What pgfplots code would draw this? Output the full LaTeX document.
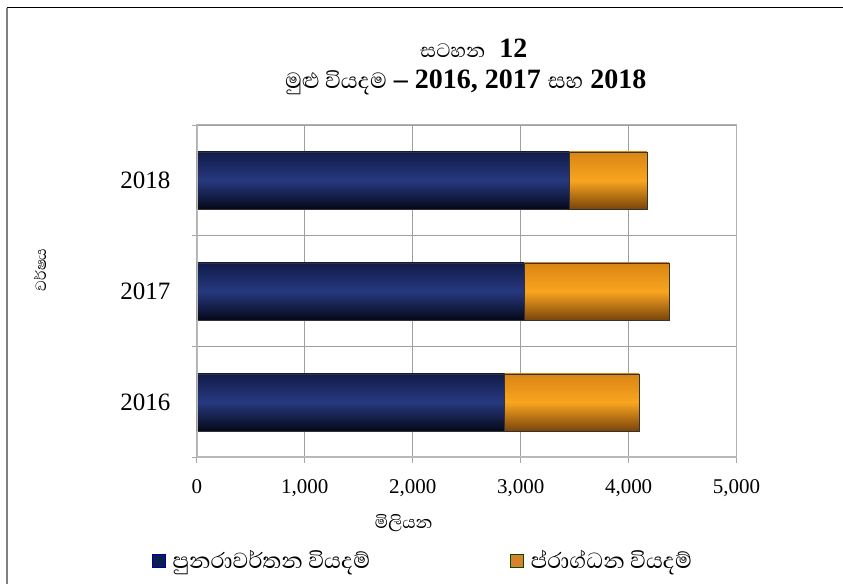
\documentclass[border=0pt]{standalone}
\usepackage{fontspec}
\setmainfont{Liberation Serif}
\newfontfamily\sinhala[Script=Sinhala]{Abhaya Libre}
\usepackage{pgfplots}
\pgfplotsset{compat=1.18}
\definecolor{navyTop}{HTML}{111B4A}
\definecolor{navyMid}{HTML}{27397F}
\definecolor{navyBot}{HTML}{05081A}
\definecolor{orTop}{HTML}{D98514}
\definecolor{orMid}{HTML}{F9A520}
\definecolor{orBot}{HTML}{7A440A}
\definecolor{legBlue}{HTML}{0B1E4D}
\definecolor{legOr}{HTML}{D9822B}
\pgfplotsset{
  bluebar/.style={xbar, bar shift=0pt, bar width=57pt, draw=black!80, line width=0.4pt,
     top color=navyTop, bottom color=navyBot, middle color=navyMid, forget plot},
  orbar/.style={xbar, bar shift=0pt, bar width=57pt, draw=black!80, line width=0.4pt,
     top color=orTop, bottom color=orBot, middle color=orMid, forget plot},
}
\begin{document}
\begin{tikzpicture}[x=1pt,y=1pt]
\path[fill=white] (0,0) rectangle (843,584);
\draw[black, line width=1pt] (7,576) -- (843,576);
\draw[gray, line width=1.6pt] (7,576) -- (7,0);
\begin{axis}[
  at={(197pt,126pt)}, anchor=south west,
  scale only axis, width=540pt, height=333pt,
  xmin=0, xmax=5000, ymin=-0.5, ymax=2.5,
  xtick={0,1000,...,5000},
  ytick={-0.5,0.5,1.5,2.5}, yticklabels={},
  extra y ticks={0,1,2}, extra y tick labels={2016,2017,2018},
  extra y tick style={grid=none, major tick length=0pt,
     yticklabel style={font=\fontsize{25}{28}\selectfont, xshift=-23pt}},
  xmajorgrids, ymajorgrids,
  grid style={gray!75, line width=1.2pt},
  axis line style={gray!60, line width=1pt},
  tick align=outside, tick pos=left,
  major tick length=5pt,
  tick style={gray!70, line width=0.8pt},
  xticklabel style={font=\fontsize{21}{24}\selectfont, yshift=-13pt},
  /pgf/number format/.cd, 1000 sep={,}, assume math mode=true,
  /pgfplots/.cd,
  legend style={at={(axis description cs:-0.0833,-0.309)}, anchor=west,
     draw=none, fill=none, legend columns=2, inner sep=0pt,
     font=\sinhala\fontsize{28}{30}\selectfont,
     nodes={inner sep=0pt},
     /tikz/every odd column/.append style={column sep=7pt},
     /tikz/every even column/.append style={column sep=140pt}},
]
\addlegendimage{legend image code/.code={\draw[fill=legBlue, draw=blue!60!black, line width=0.6pt] (0pt,-6.5pt) rectangle (13pt,6.5pt);}}
\addlegendentry{පුනරාවර්තන වියදම්}
\addlegendimage{legend image code/.code={\draw[fill=legOr, draw=green!30!black, line width=0.6pt] (0pt,-6.5pt) rectangle (13pt,6.5pt);}}
\addlegendentry{ප්රාග්ධන වියදම්}
% totals (recurrent + capital), orange, drawn first
\addplot[orbar] coordinates {(4095,0)};
\addplot[orbar] coordinates {(4375,1)};
\addplot[orbar] coordinates {(4170,2)};
% recurrent expenditure, blue, on top
\addplot[bluebar] coordinates {(2850,0)};
\addplot[bluebar] coordinates {(3030,1)};
\addplot[bluebar] coordinates {(3450,2)};
\draw[gray!55, line width=3pt] (axis cs:0,-0.5) -- (axis cs:0,2.5);
\draw[gray!55, line width=3pt] (axis cs:0,-0.5) -- (axis cs:5000,-0.5);
\end{axis}
\node at (474,536) {{\sinhala\fontsize{25}{28}\selectfont සටහන}\fontsize{28}{30}\selectfont\ \ \textbf{12}};
\node at (466,502) {\fontsize{28}{30}\selectfont{\sinhala මුළු වියදම} \textbf{– 2016, 2017} {\sinhala සහ} \textbf{2018}};
\node[rotate=90] at (40,314) {\sinhala\fontsize{19}{22}\selectfont වර්ෂය};
\node at (404,61) {\sinhala\fontsize{22}{24}\selectfont මිලියන};
\end{tikzpicture}
\end{document}
